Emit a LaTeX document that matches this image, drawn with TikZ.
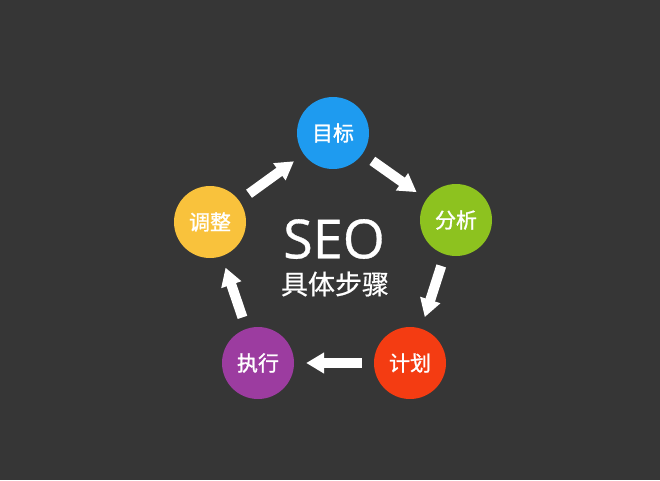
\documentclass[tikz,border=0pt]{standalone}
\usepackage{fontspec}
\setmainfont{Open Sans}
\newfontfamily\cjk{Noto Sans CJK SC}[FakeBold=0.6]
\newfontfamily\cjkbold{Noto Sans CJK SC}[FakeBold=1.2]
\newfontfamily\seofont{Open Sans}[FakeBold=0.6]
\usepackage{tikz}
\usetikzlibrary{arrows.meta}
\definecolor{bgdark}{HTML}{363636}
\definecolor{mubiao}{HTML}{1E9BF0}
\definecolor{fenxi}{HTML}{8DC21F}
\definecolor{jihua}{HTML}{F43C12}
\definecolor{zhixing}{HTML}{9C3CA0}
\definecolor{tiaozheng}{HTML}{F9C23C}

\begin{document}
\begin{tikzpicture}[x=1pt, y=-1pt,
        step circle/.style={circle, fill=#1, minimum size=72pt, inner sep=0pt,
            text=white, font=\cjkbold\fontsize{21}{21}\selectfont},
        step arrow/.style={draw=white, line width=10pt, shorten <=12pt, shorten >=12pt,
            -{Triangle[width=20pt, length=18pt]}}]
            \fill [bgdark] (0,0) rectangle (660,480);
            \node[step circle=mubiao] (mubiao) at (333,133) {目标};
            \node[step circle=fenxi] (fenxi) at (456,220) {分析};
            \node[step circle=jihua] (jihua) at (410,363) {计划};
            \node[step circle=zhixing] (zhixing) at (258,363) {执行};
            \node[step circle=tiaozheng] (tiaozheng) at (210,222) {调整};
            \draw[step arrow] (tiaozheng) -- (mubiao);
            \draw[step arrow] (mubiao) -- (fenxi);
            \draw[step arrow] (fenxi) -- (jihua);
            \draw[step arrow] (jihua) -- (zhixing);
            \draw[step arrow] (zhixing) -- (tiaozheng);
            \node[text=white, font=\seofont\fontsize{54}{54}\selectfont] (seo) at (334,239) {SEO};
            \node[text=white, font=\cjk\fontsize{27}{27}\selectfont] (buzhou) at (335,284) {具体步骤};
        \end{tikzpicture}
\end{document}
